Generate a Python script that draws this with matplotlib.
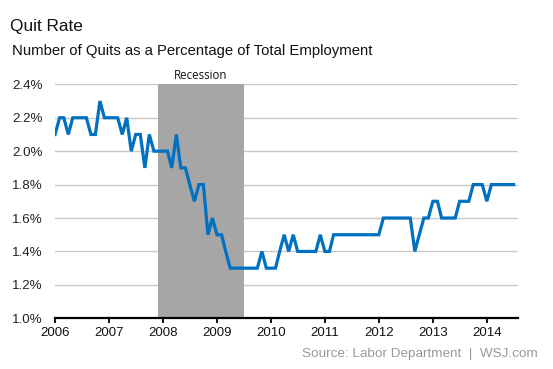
import pandas as pd
import matplotlib
matplotlib.use("Agg")
import matplotlib.pyplot as plt
import matplotlib.dates as mdates
from matplotlib.ticker import FuncFormatter

# monthly quit rate, Jan 2006 - Jul 2014 (percent)
rate_2006 = [2.1, 2.2, 2.2, 2.1, 2.2, 2.2, 2.2, 2.2, 2.1, 2.1, 2.3, 2.2]
rate_2007 = [2.2, 2.2, 2.2, 2.1, 2.2, 2.0, 2.1, 2.1, 1.9, 2.1, 2.0, 2.0]
rate_2008 = [2.0, 2.0, 1.9, 2.1, 1.9, 1.9, 1.8, 1.7, 1.8, 1.8, 1.5, 1.6]
rate_2009 = [1.5, 1.5, 1.4, 1.3, 1.3, 1.3, 1.3, 1.3, 1.3, 1.3, 1.4, 1.3]
rate_2010 = [1.3, 1.3, 1.4, 1.5, 1.4, 1.5, 1.4, 1.4, 1.4, 1.4, 1.4, 1.5]
rate_2011 = [1.4, 1.4, 1.5, 1.5, 1.5, 1.5, 1.5, 1.5, 1.5, 1.5, 1.5, 1.5]
rate_2012 = [1.5, 1.6, 1.6, 1.6, 1.6, 1.6, 1.6, 1.6, 1.4, 1.5, 1.6, 1.6]
rate_2013 = [1.7, 1.7, 1.6, 1.6, 1.6, 1.6, 1.7, 1.7, 1.7, 1.8, 1.8, 1.8]
rate_2014 = [1.7, 1.8, 1.8, 1.8, 1.8, 1.8, 1.8]

rates = (rate_2006 + rate_2007 + rate_2008 + rate_2009 + rate_2010
         + rate_2011 + rate_2012 + rate_2013 + rate_2014)
months = pd.date_range("2006-01-01", periods=len(rates), freq="MS")

recession_start = pd.Timestamp("2007-12-01")
recession_end = pd.Timestamp("2009-07-01")
y_ticks = [1.0, 1.2, 1.4, 1.6, 1.8, 2.0, 2.2, 2.4]

plt.rcParams['font.family'] = ['Liberation Sans', 'DejaVu Sans']

fig = plt.figure(figsize=(5.53, 3.69), dpi=100)
ax = fig.add_axes([0.0995, 0.1374, 0.8372, 0.6341])

ax.axvspan(recession_start, recession_end, color='#a6a6a6', lw=0, zorder=1)
ax.plot(months, rates, color='#0070c0', lw=2.3, zorder=3, solid_joinstyle='miter')

ax.set_ylim(1.0, 2.4)
ax.set_yticks(y_ticks)
ax.yaxis.set_major_formatter(FuncFormatter(lambda v, p: f"{v:.1f}%"))
ax.set_xlim(pd.Timestamp("2006-01-01"), pd.Timestamp("2014-07-31"))
ax.xaxis.set_major_locator(mdates.YearLocator())
ax.xaxis.set_major_formatter(mdates.DateFormatter('%Y'))

ax.grid(axis='y', color='#c8c8c8', lw=1.0, zorder=0)
ax.set_axisbelow(True)
for s in ['top', 'right', 'left']:
    ax.spines[s].set_visible(False)
ax.spines['bottom'].set_linewidth(1.6)
ax.spines['bottom'].set_zorder(4)
ax.tick_params(axis='y', length=0, pad=9, labelsize=9.6, labelcolor='#222222')
ax.tick_params(axis='x', length=3.5, width=1.3, pad=2.5, labelsize=9.5, labelcolor='#111111')

ax.text(recession_start + (recession_end - recession_start) / 2, 2.415, "Recession",
        ha='center', va='bottom', fontsize=8.3, family=['Open Sans', 'DejaVu Sans'],
        color='#111111')

fig.text(10 / 553, 1 - 31 / 369, "Quit Rate", fontsize=12.4, color='#111111', va='baseline')
fig.text(12 / 553, 1 - 54.5 / 369, "Number of Quits as a Percentage of Total Employment",
         fontsize=10.7, color='#111111', va='baseline')
fig.text(538 / 553, 1 - 356.5 / 369, "Source: Labor Department  |  WSJ.com",
         fontsize=9.7, color='#999999', ha='right', va='baseline')

fig.savefig("out.png", dpi=100)
